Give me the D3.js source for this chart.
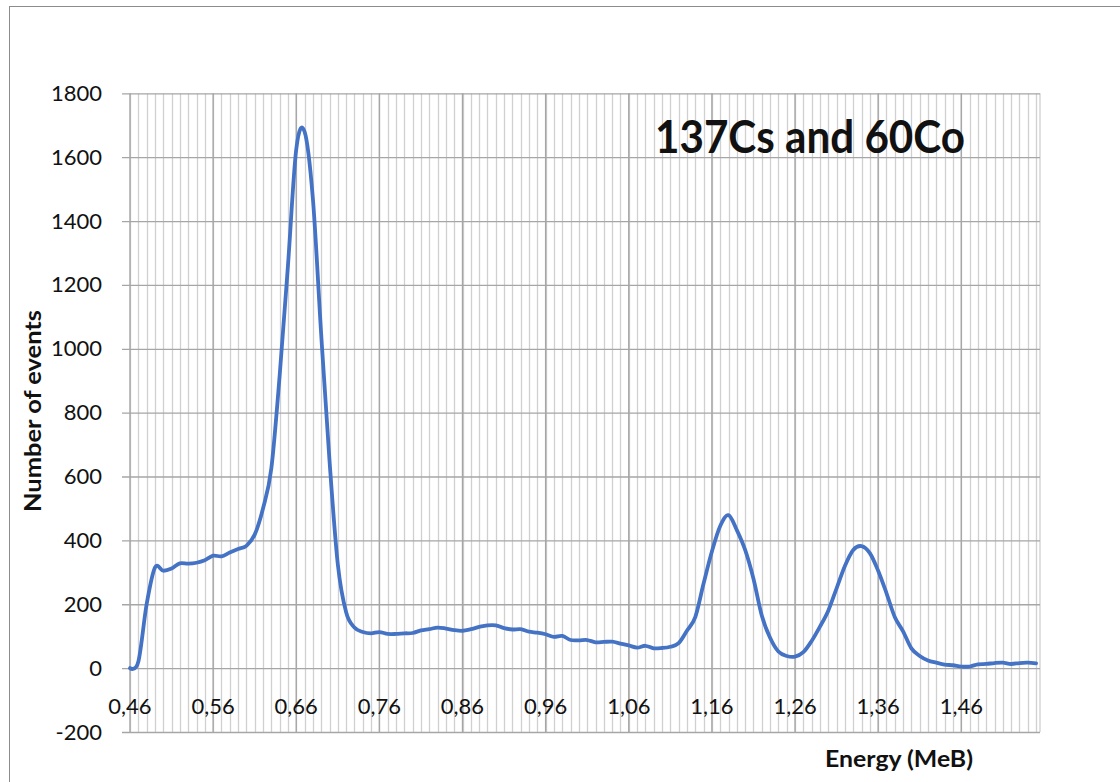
<!DOCTYPE html>
<html>
<head>
<meta charset="utf-8">
<script src="https://cdn.jsdelivr.net/npm/d3@7"></script>
<style>
  html, body { margin: 0; padding: 0; background: #fff; }
  svg { display: block; }
  text { font-family: Lato, "Liberation Sans", Arial, sans-serif; fill: #111; }
</style>
</head>
<body>
<svg id="chart" width="1120" height="782"></svg>
<script>
const energy = [
  0.46,0.47,0.48,0.49,0.50,0.51,0.52,0.53,0.54,0.55,
  0.56,0.57,0.58,0.59,0.60,0.61,0.62,0.63,0.64,0.65,
  0.66,0.67,0.68,0.69,0.70,0.71,0.72,0.73,0.74,0.75,
  0.76,0.77,0.78,0.79,0.80,0.81,0.82,0.83,0.84,0.85,
  0.86,0.87,0.88,0.89,0.90,0.91,0.92,0.93,0.94,0.95,
  0.96,0.97,0.98,0.99,1.00,1.01,1.02,1.03,1.04,1.05,
  1.06,1.07,1.08,1.09,1.10,1.11,1.12,1.13,1.14,1.15,
  1.16,1.17,1.18,1.19,1.20,1.21,1.22,1.23,1.24,1.25,
  1.26,1.27,1.28,1.29,1.30,1.31,1.32,1.33,1.34,1.35,
  1.36,1.37,1.38,1.39,1.40,1.41,1.42,1.43,1.44,1.45,
  1.46,1.47,1.48,1.49,1.50,1.51,1.52,1.53,1.54,1.55
];
const events = [
  0,20,200,315,305,312,328,327,330,338,
  352,350,362,373,383,418,500,625,915,1260,
  1625,1680,1470,1045,650,325,175,127,113,109,
  113,107,107,109,110,118,122,127,124,119,
  117,122,129,134,134,125,121,122,114,111,
  106,98,101,88,87,88,81,82,83,77,
  71,64,70,62,63,67,78,117,160,265,
  365,445,479,432,370,280,165,95,52,38,
  36,50,85,130,180,250,320,370,382,360,
  305,235,160,115,62,38,24,17,11,9,
  5,5,12,13,16,17,13,16,17,15
];
const xTickValues = [0.46,0.56,0.66,0.76,0.86,0.96,1.06,1.16,1.26,1.36,1.46];
const xTickLabels = ["0,46","0,56","0,66","0,76","0,86","0,96","1,06","1,16","1,26","1,36","1,46"];
const yTickValues = [-200,0,200,400,600,800,1000,1200,1400,1600,1800];
const chartTitle = "137Cs and 60Co";
const xTitle = "Energy (MeB)";
const yTitle = "Number of events";

const svg = d3.select("#chart");
const plotL = 130, plotR = 1040, plotT = 93.3, plotB = 732;

const x = d3.scaleLinear().domain([0.46, 1.5547]).range([plotL, plotR]);
const y = d3.scaleLinear().domain([-200, 1800]).range([plotB, plotT]);

// outer frame
svg.append("rect").attr("x", 9.5).attr("y", 6.5).attr("width", 1130).attr("height", 800)
  .attr("fill", "none").attr("stroke", "#8c8c8c").attr("stroke-width", 1);

// minor vertical grid
svg.append("g").selectAll("line").data(energy).join("line")
  .attr("x1", d => Math.round(x(d)) + 0.5).attr("x2", d => Math.round(x(d)) + 0.5)
  .attr("y1", plotT).attr("y2", plotB)
  .attr("stroke", "#d0d0d0").attr("stroke-width", 1.3);
// right edge
svg.append("line").attr("x1", plotR).attr("x2", plotR).attr("y1", plotT).attr("y2", plotB)
  .attr("stroke", "#d0d0d0").attr("stroke-width", 1.3);

// y axis with horizontal grid
const yAxis = d3.axisLeft(y).tickValues(yTickValues).tickFormat(d => String(d))
  .tickSizeInner(-(plotR - plotL)).tickSizeOuter(0).tickPadding(28);
const gy = svg.append("g").attr("transform", `translate(${plotL},0)`).call(yAxis);
gy.select(".domain").remove();
gy.selectAll(".tick line").attr("x1", -8).attr("stroke", "#a6a6a6").attr("stroke-width", 1.3);
gy.selectAll(".tick text").attr("font-size", 22).attr("fill", "#111").style("font-family", "Lato, 'Liberation Sans', Arial, sans-serif");

// major vertical grid
svg.append("g").selectAll("line").data(xTickValues).join("line")
  .attr("x1", d => x(d)).attr("x2", d => x(d))
  .attr("y1", plotT).attr("y2", plotB)
  .attr("stroke", "#a6a6a6").attr("stroke-width", 1.4);

// x tick labels
svg.append("g").selectAll("text").data(xTickValues).join("text")
  .attr("x", d => x(d)).attr("y", y(0) + 37)
  .attr("text-anchor", "middle").attr("dominant-baseline", "central")
  .attr("font-size", 22)
  .text((d, i) => xTickLabels[i]);

// data line
const line = d3.line().x((d, i) => x(energy[i])).y(d => y(d)).curve(d3.curveCardinal.tension(0));
svg.append("path").datum(events).attr("d", line)
  .attr("fill", "none").attr("stroke", "#4472C4").attr("stroke-width", 3.8)
  .attr("stroke-linejoin", "round").attr("stroke-linecap", "round");

// titles
svg.append("text").attr("x", 655).attr("y", 152.7)
  .attr("font-size", 45).attr("font-weight", "bold")
  .attr("textLength", 310).attr("lengthAdjust", "spacingAndGlyphs")
  .text(chartTitle);

svg.append("text").attr("x", 825).attr("y", 766.7)
  .attr("font-size", 23).attr("font-weight", "bold")
  .attr("textLength", 148).attr("lengthAdjust", "spacingAndGlyphs")
  .text(xTitle);

svg.append("text").attr("transform", "translate(41,411) rotate(-90)")
  .attr("text-anchor", "middle")
  .attr("font-size", 23).attr("font-weight", "bold")
  .attr("textLength", 202).attr("lengthAdjust", "spacingAndGlyphs")
  .text(yTitle);
</script>
</body>
</html>
